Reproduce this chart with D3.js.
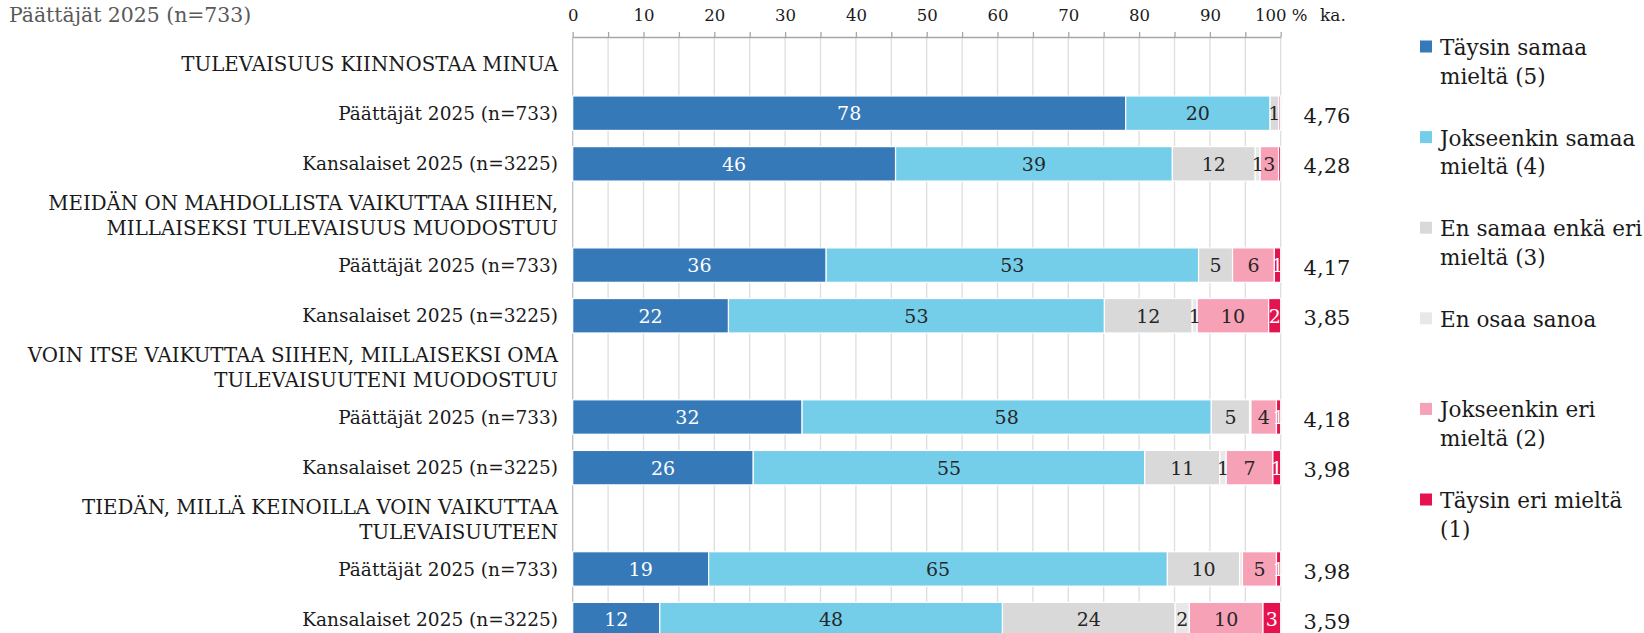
<!DOCTYPE html>
<html>
<head>
<meta charset="utf-8">
<script src="https://cdn.jsdelivr.net/npm/d3@7"></script>
<style>
  html, body { margin: 0; padding: 0; background: #fff; }
  svg { display: block; font-family: "DejaVu Serif", serif; }
</style>
</head>
<body>
<svg id="chart" width="1644" height="633"></svg>
<script>
// ---------- DATA ----------
const chartTitle = "Päättäjät 2025 (n=733)";
const questions = [
  ["TULEVAISUUS KIINNOSTAA MINUA"],
  ["MEIDÄN ON MAHDOLLISTA VAIKUTTAA SIIHEN,", "MILLAISEKSI TULEVAISUUS MUODOSTUU"],
  ["VOIN ITSE VAIKUTTAA SIIHEN, MILLAISEKSI OMA", "TULEVAISUUTENI MUODOSTUU"],
  ["TIEDÄN, MILLÄ KEINOILLA VOIN VAIKUTTAA", "TULEVAISUUTEEN"]
];
const respondents = ["Päättäjät 2025 (n=733)", "Kansalaiset 2025 (n=3225)"];
const seriesNames = ["Täysin samaa mieltä (5)", "Jokseenkin samaa mieltä (4)", "En samaa enkä eri mieltä (3)", "En osaa sanoa", "Jokseenkin eri mieltä (2)", "Täysin eri mieltä (1)"];
const legendLines = [
  ["Täysin samaa", "mieltä (5)"],
  ["Jokseenkin samaa", "mieltä (4)"],
  ["En samaa enkä eri", "mieltä (3)"],
  ["En osaa sanoa"],
  ["Jokseenkin eri", "mieltä (2)"],
  ["Täysin eri mieltä", "(1)"]
];
// rows: Q1 P, Q1 K, Q2 P, Q2 K, Q3 P, Q3 K, Q4 P, Q4 K
const taysinSamaa     = [78.1, 45.6, 35.8, 22.0, 32.4, 25.5, 19.2, 12.3];
const jokseenkinSamaa = [20.4, 39.1, 52.6, 53.1, 57.8, 55.3, 64.8, 48.4];
const enSamaaEnkaEri  = [ 1.2, 11.7,  4.8, 12.4,  5.4, 10.6, 10.2, 24.4];
const enOsaaSanoa     = [ 0.0,  0.7,  0.0,  0.7,  0.2,  0.9,  0.4,  2.0];
const jokseenkinEri   = [ 0.3,  2.6,  5.9, 10.1,  3.6,  6.6,  4.8, 10.4];
const taysinEri       = [ 0.0,  0.3,  0.9,  1.7,  0.6,  1.1,  0.6,  2.5];
const averages        = [4.76, 4.28, 4.17, 3.85, 4.18, 3.98, 3.98, 3.59];
const xTicks = [0, 5, 10, 15, 20, 25, 30, 35, 40, 45, 50, 55, 60, 65, 70, 75, 80, 85, 90, 95, 100];
const colors = ["#3679b9", "#74ceea", "#d9d9d9", "#e8e8e8", "#f7a1b6", "#e5124f"];
const labelColors = ["#ffffff", "#262626", "#262626", "#262626", "#262626", "#ffffff"];

// ---------- BUILD ----------
const seriesValues = [taysinSamaa, jokseenkinSamaa, enSamaaEnkaEri, enOsaaSanoa, jokseenkinEri, taysinEri];
const slots = [];
const rows = [];
questions.forEach((q, qi) => {
  slots.push("h" + qi);
  respondents.forEach((r, ri) => {
    const idx = qi * 2 + ri;
    slots.push("r" + idx);
    const row = { id: "r" + idx, label: r, avg: averages[idx] };
    seriesNames.forEach((s, si) => row[s] = seriesValues[si][idx]);
    rows.push(row);
  });
});

const svg = d3.select("#chart");
const x = d3.scaleLinear().domain([0, 100]).range([572.7, 1280.7]);
const y = d3.scaleBand().domain(slots).range([37.24, 644.9]).paddingInner(0.32).paddingOuter(0.16);
const axisY = 37;

// gridlines
svg.append("g").selectAll("line").data(xTicks).join("line")
  .attr("x1", d => x(d)).attr("x2", d => x(d))
  .attr("y1", axisY).attr("y2", 633)
  .attr("stroke", d => d === 0 ? "#bfbfbf" : "#dedede").attr("stroke-width", 1.3);

// axis
const axis = d3.axisTop(x).tickValues(xTicks).tickSize(5).tickSizeOuter(0).tickPadding(11)
  .tickFormat(d => d % 10 === 0 ? (d === 100 ? "100 %" : String(d)) : "");
const gAxis = svg.append("g").attr("transform", `translate(0,${axisY})`).call(axis);
gAxis.select(".domain").attr("stroke", "#a6a6a6").attr("stroke-width", 1.3);
gAxis.selectAll(".tick line").attr("stroke", "#a6a6a6").attr("stroke-width", 1.3);
gAxis.selectAll(".tick text").attr("font-family", "DejaVu Serif").attr("font-size", 16.5).attr("fill", "#1a1a1a");

svg.append("text").attr("x", 1320).attr("y", 21).attr("font-size", 17).attr("fill", "#1a1a1a").text("ka.");

// title
svg.append("text").attr("x", 9).attr("y", 22).attr("font-size", 20.4).attr("fill", "#595959").text(chartTitle);

// stacked bars
const stack = d3.stack().keys(seriesNames);
const stacked = stack(rows);
const gBars = svg.append("g");
stacked.forEach((layer, si) => {
  const g = gBars.append("g");
  g.selectAll("rect").data(layer).join("rect")
    .attr("x", d => x(d[0]))
    .attr("width", d => Math.max(0, x(d[1]) - x(d[0])))
    .attr("y", d => y(d.data.id))
    .attr("height", y.bandwidth())
    .attr("fill", colors[si])
    .attr("stroke", "#ffffff").attr("stroke-width", 1.2);
});
stacked.forEach((layer, si) => {
  gBars.append("g").selectAll("text").data(layer.filter(d => d[1] - d[0] >= 0.5)).join("text")
    .attr("x", d => (x(d[0]) + x(d[1])) / 2)
    .attr("y", d => y(d.data.id) + y.bandwidth() / 2)
    .attr("dy", "0.36em")
    .attr("text-anchor", "middle")
    .attr("font-size", 19)
    .attr("fill", labelColors[si])
    .text(d => Math.round(d[1] - d[0]));
});

// category labels
svg.append("g").selectAll("text").data(rows).join("text")
  .attr("x", 558).attr("y", d => y(d.id) + y.bandwidth() / 2).attr("dy", "0.36em")
  .attr("text-anchor", "end").attr("font-size", 18.5).attr("fill", "#1a1a1a")
  .text(d => d.label);

// question headers
const gQ = svg.append("g");
questions.forEach((lines, qi) => {
  const cy = y("h" + qi) + y.bandwidth() / 2 + 1;
  const lh = 25;
  lines.forEach((ln, li) => {
    gQ.append("text")
      .attr("x", 558)
      .attr("y", cy + (li - (lines.length - 1) / 2) * lh)
      .attr("dy", "0.36em").attr("text-anchor", "end")
      .attr("font-size", 19.8).attr("fill", "#1a1a1a").text(ln);
  });
});

// averages
svg.append("g").selectAll("text").data(rows).join("text")
  .attr("x", 1327).attr("y", d => y(d.id) + y.bandwidth() / 2 + 2).attr("dy", "0.36em")
  .attr("text-anchor", "middle").attr("font-size", 21).attr("fill", "#1a1a1a")
  .text(d => d3.format(".2f")(d.avg).replace(".", ","));

// legend
const gL = svg.append("g");
legendLines.forEach((lines, i) => {
  const base = 55 + i * 90.6;
  gL.append("rect").attr("x", 1420).attr("y", base - 14.5).attr("width", 12).attr("height", 12).attr("fill", colors[i]);
  lines.forEach((ln, li) => {
    gL.append("text").attr("x", 1440).attr("y", base + li * 28.5)
      .attr("font-size", 21.5).attr("fill", "#1a1a1a").text(ln);
  });
});
</script>
</body>
</html>
